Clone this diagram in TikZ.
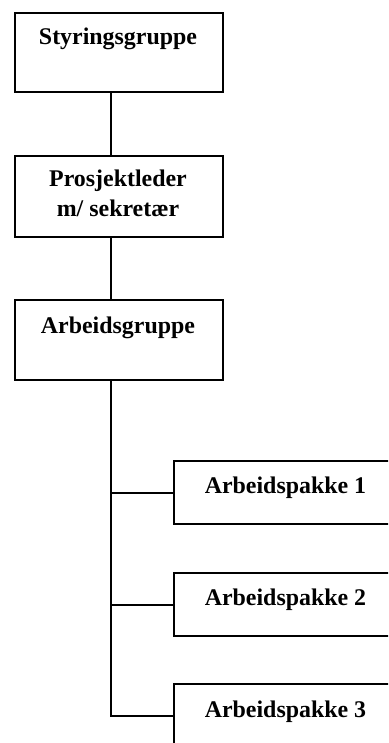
\documentclass[tikz,border=0pt]{standalone}
\usepackage{fontspec}
\setmainfont{Liberation Serif}
\begin{document}
\begin{tikzpicture}[x=1pt, y=-1pt,
  box/.style={draw, line width=2pt, anchor=north west, inner sep=0pt},
  orgbox/.style={box, minimum width=208pt},
  pkgbox/.style={box, minimum width=225pt, minimum height=63pt},
  lbl/.style={font=\fontsize{23.9}{28.7}\selectfont\bfseries, anchor=base, inner sep=0pt},
  link/.style={line width=2pt}]
  % page frame; package boxes run past the right and bottom edges
  \clip (0,0) rectangle (388,743);
  \fill[white] (0,0) rectangle (388,743);

  % management chain
  \node[orgbox, minimum height=79pt] (styr) at (14,12) {};
  \node[lbl] (styrtxt) at (118,45) {Styringsgruppe};

  \node[orgbox, minimum height=81pt] (pl) at (14,155) {};
  \node[lbl] (pltxt1) at (118,187) {Prosjektleder};
  \node[lbl] (pltxt2) at (118,216) {m/ sekretær};

  \node[orgbox, minimum height=80pt] (ag) at (14,299) {};
  \node[lbl] (agtxt) at (118,333) {Arbeidsgruppe};

  % work packages
  \node[pkgbox] (ap1) at (173,460) {};
  \node[lbl] (ap1txt) at (285.5,493) {Arbeidspakke 1};
  \node[pkgbox] (ap2) at (173,572) {};
  \node[lbl] (ap2txt) at (285.5,605) {Arbeidspakke 2};
  \node[pkgbox] (ap3) at (173,683) {};
  \node[lbl] (ap3txt) at (285.5,717) {Arbeidspakke 3};

  % connectors
  \draw[link] ([xshift=-8pt]styr.south) -- ([xshift=-8pt]pl.north);
  \draw[link] ([xshift=-8pt]pl.south) -- ([xshift=-8pt]ag.north);
  \coordinate (trunk) at ([xshift=-8pt]ag.south);
  \draw[link] (trunk) |- (ap3.west);
  \draw[link] (ap1.west) -- (ap1.west -| trunk);
  \draw[link] (ap2.west) -- (ap2.west -| trunk);
\end{tikzpicture}
\end{document}
